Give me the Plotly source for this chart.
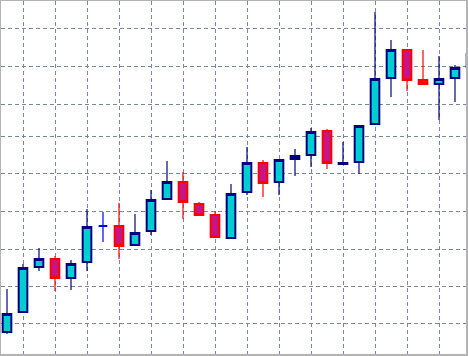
import plotly.graph_objects as go

bar_index = list(range(30))
open_ = [1.3668, 1.3688, 1.3733, 1.3741, 1.3722, 1.3738, 1.3774, 1.3774, 1.3755, 1.3769,
         1.3801, 1.3818, 1.3796, 1.3785, 1.3762, 1.3808, 1.3837, 1.3818, 1.3841, 1.3845,
         1.3869, 1.3836, 1.3838, 1.3876, 1.3922, 1.3950, 1.3920, 1.3916, 1.3922, 1.3933]
high = [1.3711, 1.3736, 1.3752, 1.3744, 1.3740, 1.3791, 1.3788, 1.3797, 1.3786, 1.3810,
        1.3839, 1.3828, 1.3798, 1.3789, 1.3816, 1.3853, 1.3840, 1.3841, 1.3851, 1.3872,
        1.3871, 1.3858, 1.3875, 1.3988, 1.3960, 1.3951, 1.3950, 1.3944, 1.3935, 1.3950]
low = [1.3666, 1.3688, 1.3729, 1.3709, 1.3710, 1.3729, 1.3758, 1.3741, 1.3755, 1.3765,
       1.3800, 1.3781, 1.3785, 1.3762, 1.3762, 1.3805, 1.3803, 1.3805, 1.3824, 1.3833,
       1.3831, 1.3836, 1.3826, 1.3876, 1.3903, 1.3909, 1.3916, 1.3880, 1.3898, 1.3930]
close = [1.3686, 1.3732, 1.3741, 1.3722, 1.3736, 1.3773, 1.3774, 1.3754, 1.3767, 1.3800,
         1.3818, 1.3798, 1.3785, 1.3763, 1.3806, 1.3837, 1.3817, 1.3840, 1.3844, 1.3868,
         1.3837, 1.3837, 1.3874, 1.3921, 1.3950, 1.3920, 1.3916, 1.3921, 1.3932, 1.3946]

grid_x = [1, 3, 5, 7, 9, 11, 13, 15, 17, 19, 21, 23, 25, 27]
grid_y = [1.3972, 1.3934, 1.3896, 1.3864, 1.3827, 1.3789, 1.3751, 1.3714, 1.3677]

BULL_LINE = "#000080"
BULL_FILL = "#00CED1"
BEAR_LINE = "#FF0000"
BEAR_FILL = "#C71585"
DOJI = "#0000FF"
GRID = "#778899"

reg = [i for i in bar_index if open_[i] != close[i]]
doji = [i for i in bar_index if open_[i] == close[i]]


def pick(arr, idx):
    return [arr[i] for i in idx]


body_top = [max(o, c) for o, c in zip(open_, close)]
body_bot = [min(o, c) for o, c in zip(open_, close)]

fig = go.Figure()


def add_wicks(idx, up_color, down_color):
    # upper wick: high -> body top ; lower wick: body bottom -> low
    for hi, lo in ((high, body_top), (body_bot, low)):
        fig.add_trace(go.Ohlc(
            x=pick(bar_index, idx), open=pick(open_, idx), high=pick(hi, idx),
            low=pick(lo, idx), close=pick(close, idx), tickwidth=0,
            increasing=dict(line=dict(color=up_color, width=1.2)),
            decreasing=dict(line=dict(color=down_color, width=1.2)),
            showlegend=False, hoverinfo="skip",
        ))


add_wicks(reg, BULL_LINE, BEAR_LINE)
add_wicks(doji, DOJI, DOJI)

# bodies
fig.add_trace(go.Candlestick(
    x=pick(bar_index, reg),
    open=pick(open_, reg), high=pick(body_top, reg),
    low=pick(body_bot, reg), close=pick(close, reg),
    increasing=dict(line=dict(color=BULL_LINE, width=2), fillcolor=BULL_FILL),
    decreasing=dict(line=dict(color=BEAR_LINE, width=2), fillcolor=BEAR_FILL),
    whiskerwidth=0, showlegend=False,
))
fig.add_trace(go.Candlestick(
    x=pick(bar_index, doji),
    open=pick(open_, doji), high=pick(body_top, doji),
    low=pick(body_bot, doji), close=pick(close, doji),
    increasing=dict(line=dict(color=DOJI, width=2), fillcolor=BULL_FILL),
    decreasing=dict(line=dict(color=DOJI, width=2), fillcolor=BULL_FILL),
    whiskerwidth=0, showlegend=False,
))

fig.update_layout(
    width=468, height=356,
    margin=dict(l=1, r=2, t=1, b=2),
    paper_bgcolor="#b4b4b4",
    plot_bgcolor="#ffffff",
    boxgap=0.46, boxgroupgap=0,
    showlegend=False,
    xaxis=dict(range=[-0.375, 28.6875], tickvals=grid_x, showticklabels=False,
               showgrid=True, gridcolor=GRID, griddash="4px,3px", gridwidth=1,
               zeroline=False, showline=False, ticks="",
               rangeslider=dict(visible=False), fixedrange=True),
    yaxis=dict(range=[1.3646, 1.3999], tickvals=grid_y, showticklabels=False,
               showgrid=True, gridcolor=GRID, griddash="4px,3px", gridwidth=1,
               zeroline=False, showline=False, ticks="", fixedrange=True),
)

fig.write_html(
    "out.html",
    config={"displayModeBar": False},
    post_script="document.body.style.margin='0';document.body.style.overflow='hidden';",
)
